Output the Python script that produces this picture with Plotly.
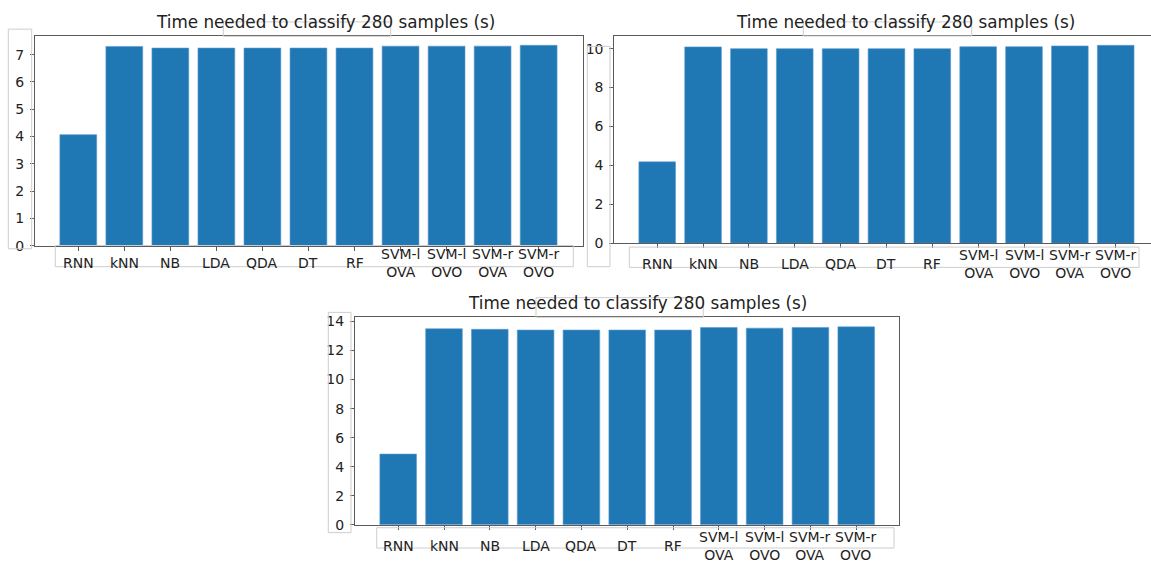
import plotly.graph_objects as go

# Classifier names shown on the x axis
classifiers = ["RNN", "kNN", "NB", "LDA", "QDA", "DT", "RF",
               "SVM-l<br>OVA", "SVM-l<br>OVO", "SVM-r<br>OVA", "SVM-r<br>OVO"]

# Classification time (s) for 280 samples, one list per panel
times_a = [4.07, 7.30, 7.24, 7.24, 7.24, 7.24, 7.24, 7.31, 7.31, 7.31, 7.34]
times_b = [4.18, 10.09, 10.00, 10.00, 10.00, 10.00, 10.00, 10.10, 10.10, 10.14, 10.17]
times_c = [4.87, 13.50, 13.46, 13.41, 13.41, 13.41, 13.41, 13.59, 13.54, 13.59, 13.63]

ytick_a = [0, 1, 2, 3, 4, 5, 6, 7]
ytick_b = [0, 2, 4, 6, 8, 10]
ytick_c = [0, 2, 4, 6, 8, 10, 12, 14]

TITLE = "Time needed to classify 280 samples (s)"

W, H = 1151, 571
FONT = "DejaVu Sans"
BAR = "#1f77b4"
AXIS = "#5a5a5a"
TEXT = "#222222"
BOX = "#cdcdcd"


def px(x):
    return x / W


def py(y):
    return 1 - y / H


fig = go.Figure()

panels = [
    # (values, yticks, x-domain px, y-domain px (top, bottom), xrange, yrange,
    #  mirror y, vertical centre of x labels px)
    (times_a, ytick_a, (35, 583.3), (33, 247), [-0.94, 10.97], [0, 7.67], True, 265),
    (times_b, ytick_b, (614.3, 1151), (32.7, 244.3), [-0.936, 10.77], [0, 10.65], False, 266),
    (times_c, ytick_c, (355, 899.3), (320, 532), [-0.943, 10.94], [0, 14.29], True, 554),
]

for i, (vals, yt, (x0, x1), (yt0, yb0), xr, yr, ymirror, lab_y) in enumerate(panels, start=1):
    sfx = "" if i == 1 else str(i)
    fig.add_trace(go.Bar(
        x=classifiers, y=vals, width=0.8,
        marker=dict(color=BAR, line=dict(width=0.6, color="#5b9bd0")),
        xaxis="x" + sfx, yaxis="y" + sfx, showlegend=False,
    ))
    fig.layout["xaxis" + sfx] = dict(
        domain=[px(x0), px(x1)], anchor="y" + sfx, range=xr,
        type="category", categoryorder="array", categoryarray=classifiers,
        showline=True, linecolor=AXIS, linewidth=1, mirror=True,
        ticks="outside", ticklen=4, tickcolor=AXIS, showgrid=False,
        zeroline=False, showticklabels=False,
    )
    fig.layout["yaxis" + sfx] = dict(
        domain=[py(yb0), py(yt0)], anchor="x" + sfx, range=yr,
        tickvals=yt, showline=True, linecolor=AXIS, linewidth=1,
        mirror=ymirror, ticks="outside", ticklen=4, tickcolor=AXIS,
        showgrid=False, zeroline=False,
        tickfont=dict(family=FONT, size=14, color=TEXT),
        ticklabelstandoff=3,
    )
    # Category labels centred vertically under each bar
    for name in classifiers:
        fig.add_annotation(
            text=name, x=name, xref="x" + sfx, y=py(lab_y), yref="paper",
            xanchor="center", yanchor="middle", showarrow=False,
            font=dict(family=FONT, size=14, color=TEXT),
        )

# Panel titles
titles = [(325, 18), (905.3, 18), (637.5, 305)]
for tx, ty in titles:
    fig.add_annotation(
        text=TITLE, x=px(tx), y=py(ty), xref="paper", yref="paper",
        xanchor="center", yanchor="middle", showarrow=False,
        font=dict(family=FONT, size=16.8, color=TEXT),
    )

# Faint outline boxes around tick-label and title regions
boxes = [
    (8.3, 25.7, 31.7, 250), (55.3, 246.7, 573.3, 268.3), (223.3, 18.3, 390.7, 33),
    (587.3, 43.3, 610, 268.3), (629.3, 248.3, 1139, 269), (803.3, 18.3, 971.7, 32.7),
    (328.3, 315, 351, 540), (376.7, 535, 894, 555.7), (536, 300, 703.3, 320),
]
for bx0, by0, bx1, by1 in boxes:
    fig.add_shape(
        type="rect", xref="paper", yref="paper",
        x0=px(bx0), x1=px(bx1), y0=py(by1), y1=py(by0),
        line=dict(color=BOX, width=1), fillcolor="rgba(0,0,0,0)", layer="above",
    )

fig.update_layout(
    width=W, height=H,
    margin=dict(l=0, r=0, t=0, b=0),
    paper_bgcolor="white", plot_bgcolor="white",
    bargap=0.2,
    font=dict(family=FONT, color=TEXT),
)

fig.write_html("out.html")
